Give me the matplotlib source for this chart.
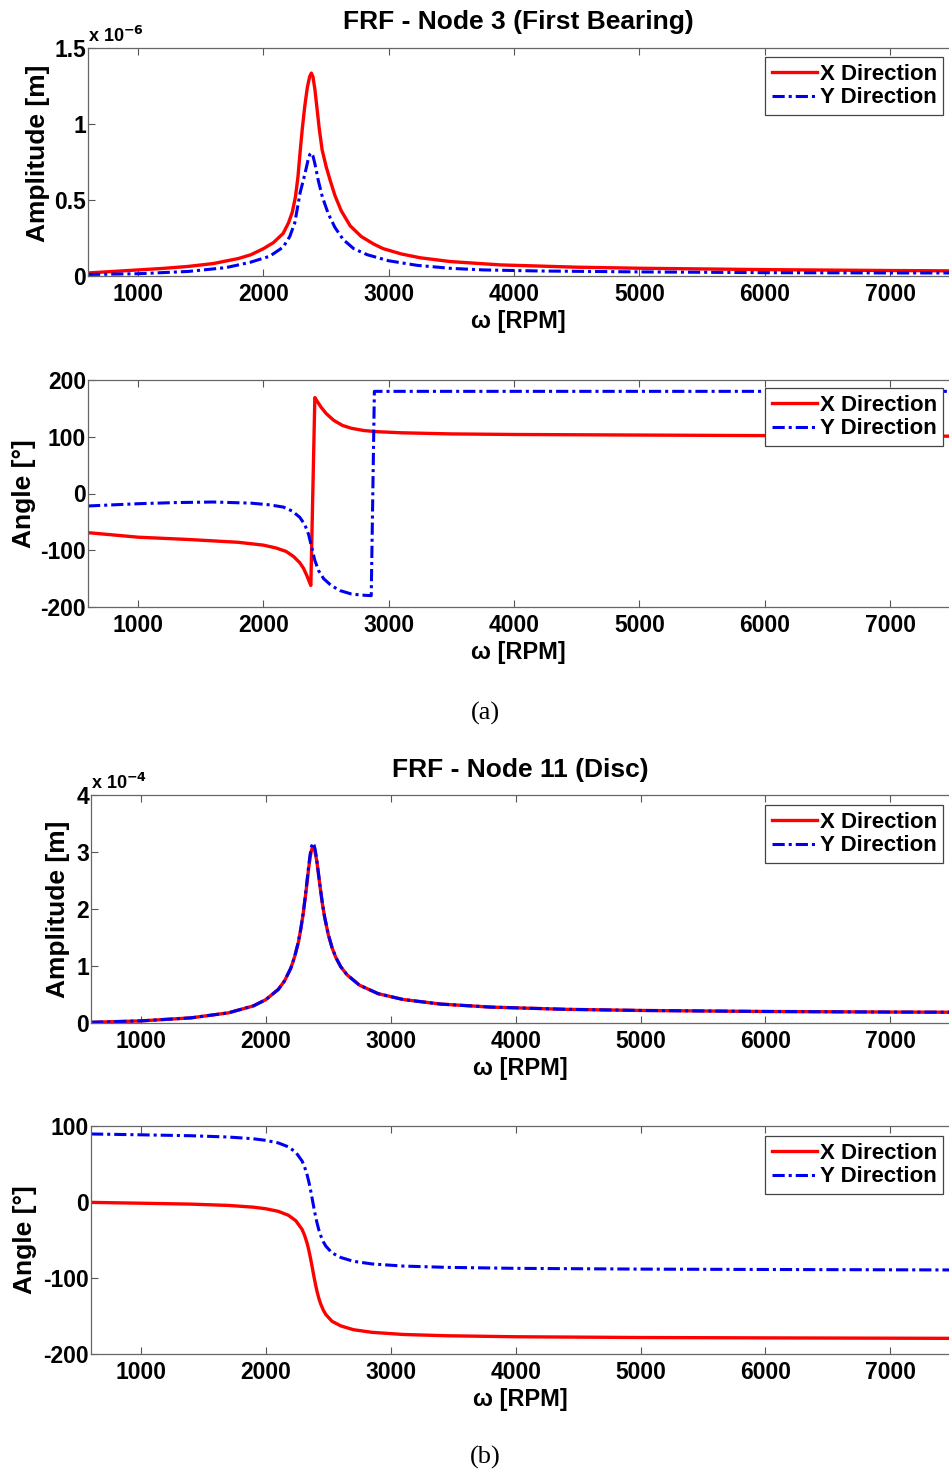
import matplotlib
matplotlib.use("Agg")
import matplotlib.pyplot as plt

plt.rcParams["font.family"] = ["Liberation Sans", "DejaVu Sans"]
plt.rcParams["font.weight"] = "bold"
plt.rcParams["axes.unicode_minus"] = False

# ---- Node 3 (first bearing): amplitude, units of 1e-6 m ----
n3_amp_x_rpm = [600, 800, 1000, 1200, 1400, 1600, 1800, 1900, 2000, 2080, 2157, 2200,
                2230, 2255, 2275, 2294, 2310, 2330, 2350, 2368, 2382, 2395, 2410, 2425,
                2445, 2468, 2500, 2532, 2570, 2620, 2692, 2780, 2880, 2955, 3100, 3250,
                3490, 3890, 4500, 5000, 6000, 7000, 7470]
n3_amp_x = [0.02, 0.03, 0.04, 0.05, 0.063, 0.082, 0.115, 0.14, 0.18, 0.22, 0.28, 0.35,
            0.42, 0.52, 0.65, 0.83, 0.97, 1.12, 1.24, 1.31, 1.335, 1.31, 1.23, 1.12,
            0.97, 0.83, 0.72, 0.63, 0.53, 0.43, 0.33, 0.26, 0.21, 0.18, 0.145, 0.12,
            0.095, 0.073, 0.058, 0.051, 0.042, 0.036, 0.034]

n3_amp_y_rpm = [600, 1000, 1400, 1700, 1894, 2050, 2157, 2210, 2250, 2293, 2315, 2333,
                2355, 2370, 2382, 2395, 2410, 2437, 2470, 2517, 2570, 2636, 2720, 2828,
                3000, 3227, 3500, 3753, 4200, 5000, 6000, 7000, 7470]
n3_amp_y = [0.01, 0.015, 0.03, 0.055, 0.09, 0.13, 0.19, 0.26, 0.35, 0.55, 0.62, 0.68,
            0.76, 0.80, 0.81, 0.79, 0.74, 0.63, 0.52, 0.41, 0.32, 0.24, 0.18, 0.14,
            0.10, 0.07, 0.05, 0.04, 0.033, 0.027, 0.022, 0.02, 0.02]

# ---- Node 3: phase angle, degrees ----
n3_ang_x_rpm = [600, 1000, 1400, 1800, 2000, 2100, 2180, 2240, 2290, 2320, 2345, 2365,
                2378, 2410, 2430, 2460, 2500, 2560, 2630, 2700, 2800, 2900, 3100, 3500,
                4000, 5000, 6000, 7000, 7470]
n3_ang_x = [-69, -77, -81, -86, -91, -96, -102, -111, -122, -132, -144, -155,
            -162, 169, 162, 152, 141, 129, 120, 115, 111, 109, 107, 105,
            104, 103, 102, 101, 101]

n3_ang_y_rpm = [600, 800, 1000, 1300, 1600, 1900, 2050, 2160, 2230, 2290, 2330, 2360,
                2385, 2410, 2440, 2480, 2540, 2610, 2700, 2780, 2860, 2885, 3000, 4000,
                5000, 6000, 7000, 7470]
n3_ang_y = [-22, -20, -18, -16, -15, -17, -20, -24, -31, -42, -55, -72,
            -95, -118, -136, -150, -162, -171, -177, -179, -180, 180, 180, 180,
            180, 180, 180, 180]

# ---- Node 11 (disc): amplitude, units of 1e-4 m ----
n11_rpm = [600, 1000, 1400, 1700, 1900, 2000, 2100, 2150, 2200, 2230, 2260, 2280,
           2300, 2315, 2330, 2343, 2355, 2365, 2376, 2386, 2395, 2408, 2420, 2435,
           2450, 2470, 2500, 2530, 2560, 2600, 2650, 2750, 2900, 3100, 3400, 3800,
           4400, 5000, 6000, 7000, 7470]
n11_amp_x = [0.012, 0.037, 0.09, 0.178, 0.30, 0.41, 0.59, 0.74, 0.96, 1.16, 1.41, 1.65,
             1.93, 2.19, 2.46, 2.72, 2.91, 3.03, 3.09, 3.07, 2.99, 2.84, 2.63, 2.38,
             2.13, 1.86, 1.55, 1.32, 1.15, 0.985, 0.846, 0.663, 0.514, 0.412, 0.332, 0.279,
             0.240, 0.220, 0.202, 0.192, 0.189]
n11_amp_y = [0.012, 0.037, 0.09, 0.178, 0.30, 0.41, 0.59, 0.74, 0.965, 1.157, 1.42, 1.655,
             1.945, 2.21, 2.50, 2.756, 2.966, 3.09, 3.16, 3.124, 3.046, 2.86, 2.65, 2.39,
             2.145, 1.869, 1.553, 1.324, 1.153, 0.987, 0.846, 0.663, 0.514, 0.412, 0.332, 0.279,
             0.240, 0.220, 0.202, 0.192, 0.189]

# ---- Node 11: phase angle, degrees ----
n11_ang_rpm = [600, 1000, 1400, 1700, 1900, 2000, 2100, 2180, 2240, 2290, 2310, 2330,
               2345, 2360, 2372, 2385, 2398, 2410, 2425, 2440, 2460, 2480, 2530, 2600,
               2700, 2850, 3100, 3450, 4000, 5000, 6000, 7000, 7470]
n11_ang_x = [-0.5, -1.6, -2.8, -4.5, -6.8, -8.9, -12.3, -17.4, -24.6, -36, -43.8, -54,
             -64, -76, -86.4, -98, -108.9, -117.7, -127.1, -134.5, -142.2, -148, -157, -163,
             -168, -171.5, -174.3, -176, -177.3, -178.3, -178.8, -179.2, -179.4]
n11_ang_y = [89.5, 88.4, 87.2, 85.5, 83.2, 81.1, 77.7, 72.6, 65.4, 54, 46.2, 36,
             26, 14, 3.6, -8, -18.9, -27.7, -37.1, -44.5, -52.2, -58, -67, -73,
             -78, -81.5, -84.3, -86, -87.3, -88.3, -88.8, -89.2, -89.4]

x_ticks = [1000, 2000, 3000, 4000, 5000, 6000, 7000]
x_lim = (600, 7470)
legend_labels = ["X Direction", "Y Direction"]

RED = "#ff0000"
BLUE = "#0000f0"
DASHDOT = (0, (4, 1.3, 1, 1.3))

W, H = 949, 1470
fig = plt.figure(figsize=(W / 100, H / 100), dpi=100)


def add_axes(left_px, top_px, bottom_px):
    return fig.add_axes([left_px / W, 1 - bottom_px / H,
                         (W - left_px) / W, (bottom_px - top_px) / H])


def style(ax, yticks, ylim, ylabel, ylab_xy, leg_top):
    ax.set_xlim(*x_lim)
    ax.set_ylim(*ylim)
    ax.set_xticks(x_ticks)
    ax.set_yticks(yticks)
    ax.tick_params(direction="in", length=5, width=0.8, top=True, right=False,
                   labelsize=16.5, color="#555555")
    ax.tick_params(axis="x", pad=5)
    ax.tick_params(axis="y", pad=1.5)
    for lab in ax.get_xticklabels() + ax.get_yticklabels():
        lab.set_fontweight("bold")
    for s in ax.spines.values():
        s.set_color("#666666")
        s.set_linewidth(0.9)
    ax.spines["right"].set_visible(False)
    ax.set_xlabel("ω [RPM]", fontsize=17, fontweight="bold", labelpad=3)
    ax.set_ylabel(ylabel, fontsize=19, fontweight="bold")
    ax.yaxis.set_label_coords(*ylab_xy)
    leg = ax.legend(loc="upper right", bbox_to_anchor=(0.9935, leg_top),
                    borderaxespad=0.0, prop={"weight": "bold", "size": 16},
                    handlelength=2.05, handletextpad=0.1, labelspacing=0.12,
                    borderpad=0.3, fancybox=False, framealpha=1, edgecolor="#444444")
    leg.get_frame().set_linewidth(0.9)


def plot_pair(ax, xr, xv, yr, yv):
    ax.plot(xr, xv, color=RED, lw=2.4, label=legend_labels[0])
    ax.plot(yr, yv, color=BLUE, lw=2.2, linestyle=DASHDOT, label=legend_labels[1])


# Node 3 amplitude
ax1 = add_axes(88, 48, 276)
plot_pair(ax1, n3_amp_x_rpm, n3_amp_x, n3_amp_y_rpm, n3_amp_y)
style(ax1, [0, 0.5, 1, 1.5], (0, 1.5), "Amplitude [m]", (-0.044, 0.54), 1 - 9 / 228)
ax1.set_yticklabels(["0", "0.5", "1", "1.5"])
ax1.text(0.0, 1.01, r"x 10$^{\mathbf{-6}}$", transform=ax1.transAxes, fontsize=13,
         fontweight="bold", ha="left", va="bottom")
ax1.set_title("FRF - Node 3 (First Bearing)", fontsize=19, fontweight="bold", pad=14)

# Node 3 angle
ax2 = add_axes(88, 380, 607)
plot_pair(ax2, n3_ang_x_rpm, n3_ang_x, n3_ang_y_rpm, n3_ang_y)
style(ax2, [-200, -100, 0, 100, 200], (-200, 200), "Angle [°]", (-0.06, 0.5), 1 - 8 / 227)

# Node 11 amplitude
ax3 = add_axes(91, 795, 1023)
plot_pair(ax3, n11_rpm, n11_amp_x, n11_rpm, n11_amp_y)
style(ax3, [0, 1, 2, 3, 4], (0, 4), "Amplitude [m]", (-0.024, 0.5), 1 - 10 / 228)
ax3.text(0.0, 1.01, r"x 10$^{\mathbf{-4}}$", transform=ax3.transAxes, fontsize=13,
         fontweight="bold", ha="left", va="bottom")
ax3.set_title("FRF - Node 11 (Disc)", fontsize=19, fontweight="bold", pad=13)

# Node 11 angle
ax4 = add_axes(91, 1126, 1354)
plot_pair(ax4, n11_ang_rpm, n11_ang_x, n11_ang_rpm, n11_ang_y)
style(ax4, [-200, -100, 0, 100], (-200, 100), "Angle [°]", (-0.063, 0.5), 1 - 10 / 228)

fig.text(485 / W, 1 - 713 / H, "(a)", fontsize=19, fontweight="normal",
         family=["Liberation Serif", "DejaVu Serif"], ha="center", va="center")
fig.text(485 / W, 1 - 1457 / H, "(b)", fontsize=19, fontweight="normal",
         family=["Liberation Serif", "DejaVu Serif"], ha="center", va="center")

fig.savefig("out.png", dpi=100, facecolor="white")
